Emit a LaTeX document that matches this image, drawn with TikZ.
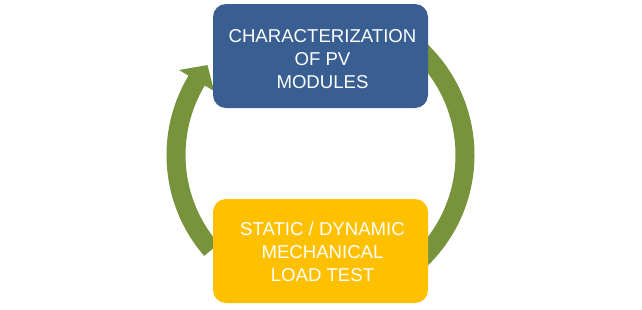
\documentclass[tikz,border=0pt]{standalone}
\usepackage{fontspec}
\setmainfont{Liberation Sans}
\usetikzlibrary{calc}
\definecolor{pvblue}{RGB}{57,94,146}
\definecolor{pvyellow}{RGB}{255,192,0}
\definecolor{pvgreen}{RGB}{119,147,60}
\tikzset{
  stagebox/.style={rounded corners=13pt, minimum width=215pt, minimum height=104pt,
    inner sep=0pt},
  stagetext/.style={text=white, align=center, font=\fontsize{18.6}{23}\selectfont, inner sep=0pt},
  ringarc/.style={draw=pvgreen, line width=19pt, line cap=butt}
}
\begin{document}
\begin{tikzpicture}[x=1pt,y=1pt]
\useasboundingbox (0,0) rectangle (642,-309);
\coordinate (c) at (320.5,-155);
% right arc (top box to bottom box)
\draw[ringarc] ($(c)+(50:144.5)$) arc[start angle=50, end angle=-50, radius=144.5];
% left arc (bottom box up to top box) with arrow head
\draw[ringarc] ($(c)+(221:144.5)$) arc[start angle=221, end angle=148.5, radius=144.5];
\fill[pvgreen] ($(c)+(149:165)$) -- ($(c)+(141.5:144.5)$) -- ($(c)+(149:124)$) -- cycle;
\node[stagebox, fill=pvblue] (char) at (320.5,-56) {};
\node[stagetext] (chartext) at ($(char.center)+(2,-3)$) {CHARACTERIZATION\\OF PV\\MODULES};
\node[stagebox, fill=pvyellow] (load) at (320.5,-251) {};
\node[stagetext] (loadtext) at ($(load.center)+(2,-1)$) {STATIC / DYNAMIC\\MECHANICAL\\LOAD TEST};
\end{tikzpicture}
\end{document}
